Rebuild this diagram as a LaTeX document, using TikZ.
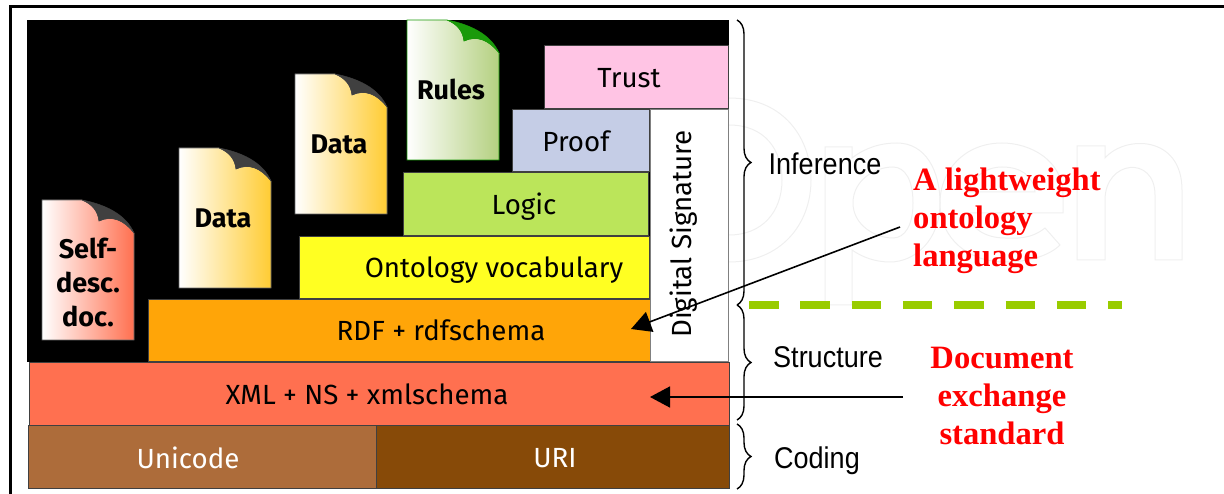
\documentclass[tikz,border=0pt]{standalone}
\usepackage{xcolor}
\usepackage{fontspec}
\usepackage{tikz}
\usetikzlibrary{arrows.meta, decorations.pathreplacing}

\setsansfont{Fira Sans}
\newfontfamily\notefont{Liberation Serif}
\newfontfamily\sidefont{Liberation Sans}

\definecolor{c_trust}{HTML}{FFC4E4}
\definecolor{c_proof}{HTML}{C5CDE6}
\definecolor{c_logic}{HTML}{BBE55A}
\definecolor{c_onto}{HTML}{FFFF22}
\definecolor{c_rdf}{HTML}{FFA508}
\definecolor{c_xml}{HTML}{FF7050}
\definecolor{c_uni}{HTML}{AD6C3A}
\definecolor{c_uri}{HTML}{874A08}
\definecolor{c_dash}{HTML}{99CC00}
\definecolor{c_mark}{HTML}{EFEFEF}
\definecolor{c_gold}{HTML}{FFCC33}
\definecolor{c_leaf}{HTML}{B4D080}
\definecolor{c_fold}{HTML}{1A9A0A}

% one sheet: x, y, colour, fold colour, edge colour
\newcommand{\docsheet}[5]{
    \begin{scope}[shift={(#1, #2)}]
        \path [draw=#5, line width=0.6pt, left color=white, middle color=#3!10, right color=#3]
            (0, 0) -- (40, 0) .. controls (50, 4) and (56, 11) .. (57, 21)
            .. controls (70, 15) and (82, 20) .. (92, 33) -- (92, 140) -- (0, 140) -- cycle;
        \path [fill=#4, draw=#4, line width=0.4pt]
            (40, 0) .. controls (62, 4) and (84, 14) .. (92, 33)
            .. controls (82, 20) and (70, 15) .. (57, 21)
            .. controls (56, 11) and (50, 4) .. (40, 0);
    \end{scope}
}

\begin{document}
\begin{tikzpicture}[x=1pt, y=-1pt]
\useasboundingbox (0, 0) rectangle (1224, 494);

% watermark
\begin{scope}[draw=c_mark, line width=1pt]
    \draw (729, 98) .. controls (785, 98) and (811, 140) .. (811, 180) .. controls (811, 225) and (780, 262) .. (729, 262);
    \draw (729, 125) .. controls (765, 125) and (782, 150) .. (782, 180) .. controls (782, 212) and (762, 235) .. (729, 235);
    \draw (825, 305) -- (825, 147) -- (852, 147) -- (852, 158) .. controls (865, 148) and (880, 143) .. (897, 143) .. controls (925, 143) and (940, 170) .. (940, 203) .. controls (940, 240) and (915, 262) .. (890, 262) .. controls (875, 262) and (862, 257) .. (852, 250) -- (852, 305) -- cycle;
    \draw (853, 203) .. controls (853, 180) and (875, 167) .. (893, 167) .. controls (905, 167) and (913, 180) .. (913, 203) .. controls (913, 225) and (905, 238) .. (893, 238) .. controls (875, 238) and (853, 225) .. (853, 203);
    \draw (1063, 213) -- (1063, 195) .. controls (1063, 160) and (1030, 143) .. (1002, 143) .. controls (965, 143) and (940, 170) .. (940, 203) .. controls (940, 240) and (970, 262) .. (1005, 262) .. controls (1030, 262) and (1050, 255) .. (1060, 245) -- (1045, 228) .. controls (1030, 240) and (1015, 238) .. (1005, 238) .. controls (985, 238) and (970, 228) .. (968, 213) -- cycle;
    \draw (968, 192) -- (1035, 192) .. controls (1033, 175) and (1020, 167) .. (1002, 167) .. controls (985, 167) and (972, 178) .. (968, 192) -- cycle;
    \draw (1077, 260) -- (1077, 146) -- (1105, 146) -- (1105, 158) .. controls (1125, 135) and (1182, 135) .. (1182, 190) -- (1182, 260) -- (1155, 260) -- (1155, 195) .. controls (1155, 155) and (1105, 160) .. (1105, 200) -- (1105, 260) -- cycle;
\end{scope}

% frame
\draw [line width=3pt] (10, 494) -- (10, 6.5) -- (1224, 6.5);

% background
\fill (27, 20) rectangle (729, 362);

\begin{scope}[every node/.style={draw=black!75, line width=0.6pt, inner sep=0pt}]
    % layer
    \node [fill=c_trust, minimum width=184, minimum height=63] (Trust) at (636, 76.5) {};
    \node [fill=c_proof, minimum width=137, minimum height=62] (Proof) at (580.5, 140) {};
    \node [fill=c_logic, minimum width=245, minimum height=63] (Logic) at (525.5, 203.5) {};
    \node [fill=c_onto, minimum width=350, minimum height=62] (Onto) at (474, 267) {};
    \node [fill=c_rdf, minimum width=502, minimum height=62] (RDF) at (399, 330) {};
    \node [fill=white, draw=black!50, minimum width=78, minimum height=252] (Sign) at (689, 235) {};
    % Layer
    \node [fill=c_xml, minimum width=700, minimum height=63] (XML) at (379, 393.5) {};
    % Layer
    \node [fill=c_uni, minimum width=348, minimum height=63] (Unicode) at (202, 456.5) {};
    \node [fill=c_uri, minimum width=353, minimum height=63] (URI) at (552.5, 456.5) {};
\end{scope}

% sheets
\docsheet{42}{200}{c_xml}{black!75}{black!60}
\docsheet{179}{148}{c_gold}{black!75}{black!60}
\docsheet{295}{74}{c_gold}{black!75}{black!60}
\docsheet{407}{20}{c_leaf}{c_fold}{c_fold}

\begin{scope}[every node/.style={font=\sffamily\fontsize{27.7}{34}\selectfont, inner sep=0pt}]
    \node (Trust_t) at (629, 78) {Trust};
    \node (Proof_t) at (576, 141) {Proof};
    \node (Logic_t) at (524, 207) {Logic};
    \node (Onto_t) at (494, 270) {Ontology vocabulary};
    \node (RDF_t) at (441, 330) {RDF + rdfschema};
    \node [rotate=90] (Sign_t) at (684, 234) {Digital Signature};
    \node (XML_t) at (367, 394) {XML + NS + xmlschema};
    \node [text=white] (Unicode_t) at (188, 458) {Unicode};
    \node [text=white] (URI_t) at (555, 458) {URI};
    % sheets
    \node [font=\sffamily\bfseries\fontsize{27}{34}\selectfont, align=center] (Self_t) at (88, 282) {Self-\\desc.\\doc.};
    \node [font=\sffamily\bfseries\fontsize{27}{34}\selectfont] (Data_a) at (223, 218) {Data};
    \node [font=\sffamily\bfseries\fontsize{27}{34}\selectfont] (Data_b) at (339, 144) {Data};
    \node [font=\sffamily\bfseries\fontsize{27}{34}\selectfont] (Rules_t) at (451, 89) {Rules};
\end{scope}

% braces
\coordinate (Inf_t) at (737, 20);
\coordinate (Inf_b) at (737, 305);
\coordinate (Str_t) at (737, 305);
\coordinate (Str_b) at (737, 420);
\coordinate (Cod_t) at (737, 424);
\coordinate (Cod_b) at (737, 489);
\begin{scope}[line width=1.4pt, decoration={brace, amplitude=14pt}]
    \draw [decorate] (Inf_t) -- (Inf_b);
    \draw [decorate] (Str_t) -- (Str_b);
    \draw [decorate] (Cod_t) -- (Cod_b);
\end{scope}

\begin{scope}[every node/.style={font=\sidefont\fontsize{30}{34}\selectfont, xscale=0.9, inner sep=0pt}]
    \node (Inference) at (825, 164) {Inference};
    \node (Structure) at (828, 357) {Structure};
    \node (Coding) at (817, 461) {Coding};
\end{scope}

% divider
\coordinate (Div_l) at (749, 305);
\coordinate (Div_r) at (1122, 305);
\draw [c_dash, line width=7.5pt, dash pattern=on 29.5pt off 21.8pt] (Div_l) -- (Div_r);

% notes
\begin{scope}[every node/.style={font=\notefont\bfseries\fontsize{32.6}{38}\selectfont, text=red, inner sep=0pt}]
    \node [anchor=west, align=left] (Note_a) at (913, 221) {A lightweight\\ontology\\language};
    \node [align=center] (Note_b) at (1002, 396) {Document\\exchange\\standard};
\end{scope}

\coordinate (Note_a_s) at (900, 227);
\coordinate (RDF_in) at (631, 329);
\coordinate (Note_b_s) at (903, 397);
\coordinate (XML_in) at (650, 397);
\begin{scope}[every edge/.style={draw=black, line width=1.6pt}]
    \path [-{Triangle[length=20pt, width=21pt]}] (Note_a_s) edge (RDF_in);
    \path [-{Triangle[length=20pt, width=21pt]}] (Note_b_s) edge (XML_in);
\end{scope}
\end{tikzpicture}
\end{document}
